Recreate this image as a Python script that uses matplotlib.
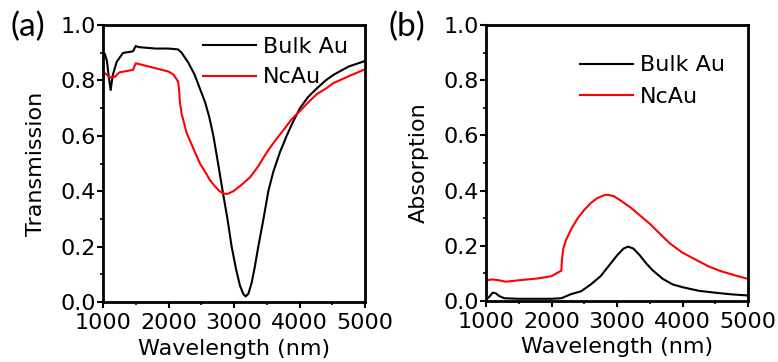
import matplotlib
matplotlib.use("Agg")
import matplotlib.pyplot as plt
import numpy as np

plt.rcParams['font.family'] = ['DejaVu Sans']

# Panel (a): Transmission
wl_bulk_T = [1000, 1030, 1060, 1090, 1117, 1150, 1209, 1305, 1458, 1500, 1550, 1800, 2000, 2145,
             2200, 2300, 2400, 2480, 2560, 2620, 2685, 2750, 2827, 2900, 2964, 3030, 3090, 3140,
             3178, 3220, 3270, 3320, 3371, 3450, 3524, 3600, 3700, 3804, 3900, 4008, 4130, 4260,
             4400, 4517, 4750, 5000]
T_bulk = [0.90, 0.895, 0.87, 0.81, 0.765, 0.82, 0.867, 0.899, 0.905, 0.924, 0.92, 0.915, 0.915, 0.912,
          0.90, 0.865, 0.82, 0.77, 0.72, 0.67, 0.60, 0.51, 0.40, 0.30, 0.20, 0.12, 0.06, 0.03,
          0.02, 0.03, 0.07, 0.13, 0.20, 0.30, 0.40, 0.47, 0.54, 0.60, 0.65, 0.70, 0.74, 0.77,
          0.80, 0.82, 0.85, 0.87]

wl_nc_T = [1000, 1030, 1100, 1175, 1250, 1458, 1500, 1600, 1800, 2000, 2080, 2145, 2160, 2175,
           2200, 2277, 2350, 2480, 2560, 2633, 2700, 2780, 2837, 2900, 2990, 3100, 3244, 3370,
           3500, 3620, 3753, 3880, 4008, 4130, 4262, 4400, 4517, 4750, 5000]
T_nc = [0.816, 0.826, 0.811, 0.812, 0.829, 0.838, 0.862, 0.856, 0.844, 0.832, 0.82, 0.796, 0.77, 0.72,
        0.68, 0.61, 0.57, 0.50, 0.47, 0.44, 0.42, 0.40, 0.392, 0.39, 0.40, 0.42, 0.45, 0.49,
        0.54, 0.58, 0.62, 0.66, 0.69, 0.72, 0.75, 0.77, 0.79, 0.815, 0.84]

# Panel (b): Absorption
wl_bulk_A = [1000, 1050, 1100, 1150, 1200, 1280, 1500, 2000, 2150, 2300, 2450, 2600, 2750, 2900,
             3000, 3100, 3170, 3250, 3350, 3450, 3550, 3700, 3850, 4000, 4250, 4500, 4750, 5000]
A_bulk = [0.005, 0.015, 0.03, 0.028, 0.018, 0.01, 0.008, 0.008, 0.01, 0.025, 0.035, 0.06, 0.09, 0.135,
          0.165, 0.19, 0.197, 0.19, 0.165, 0.135, 0.11, 0.08, 0.06, 0.05, 0.037, 0.03, 0.024, 0.02]

wl_nc_A = [1000, 1100, 1200, 1300, 1500, 1800, 2000, 2150, 2160, 2180, 2220, 2300, 2400, 2500,
           2600, 2700, 2800, 2850, 2950, 3050, 3200, 3350, 3500, 3650, 3800, 4000, 4200, 4400,
           4600, 4800, 5000]
A_nc = [0.075, 0.078, 0.075, 0.07, 0.075, 0.082, 0.09, 0.11, 0.15, 0.19, 0.22, 0.26, 0.30, 0.33,
        0.355, 0.373, 0.383, 0.385, 0.38, 0.365, 0.34, 0.31, 0.28, 0.245, 0.21, 0.175, 0.15, 0.125,
        0.107, 0.093, 0.08]

series_labels = ["Bulk Au", "NcAu"]
colors = ["black", "#ff0000"]

fig = plt.figure(figsize=(7.78, 3.62), dpi=100)
W, H = 778, 362
axA = fig.add_axes([103 / W, 1 - 302 / H, (365 - 103) / W, (302 - 25) / H])
axB = fig.add_axes([486 / W, 1 - 301 / H, (748 - 486) / W, (301 - 25) / H])

axA.plot(wl_bulk_T, T_bulk, color=colors[0], lw=1.5, label=series_labels[0])
axA.plot(wl_nc_T, T_nc, color=colors[1], lw=1.5, label=series_labels[1])
axB.plot(wl_bulk_A, A_bulk, color=colors[0], lw=1.5, label=series_labels[0])
axB.plot(wl_nc_A, A_nc, color=colors[1], lw=1.5, label=series_labels[1])

FS = 16
for ax, ylab in [(axA, "Transmission"), (axB, "Absorption")]:
    ax.set_xlim(1000, 5000)
    ax.set_ylim(0, 1.0)
    ax.set_xticks([1000, 2000, 3000, 4000, 5000])
    ax.set_xticks(np.arange(1000, 5001, 500), minor=True)
    ax.set_yticks([0.0, 0.2, 0.4, 0.6, 0.8, 1.0])
    ax.set_yticks(np.arange(0, 1.01, 0.1), minor=True)
    ax.set_yticklabels(["0.0", "0.2", "0.4", "0.6", "0.8", "1.0"])
    ax.tick_params(which='major', direction='out', length=4, width=1.5, labelsize=FS, pad=1)
    ax.tick_params(axis='x', which='major', pad=4)
    ax.tick_params(which='minor', direction='out', length=2.5, width=1.2)
    for s in ax.spines.values():
        s.set_linewidth(2)
    ax.set_xlabel("Wavelength (nm)", fontsize=FS, va='center')
    ax.set_ylabel(ylab, fontsize=FS, va='center')
    ax.xaxis.set_label_coords(0.5, -0.168)
    ax.yaxis.set_label_coords(-0.255, 0.5)

axA.legend(loc='upper left', bbox_to_anchor=(0.382, 0.957), frameon=False, fontsize=FS,
           handlelength=2.4, handletextpad=0.3, labelspacing=0.47, borderaxespad=0, borderpad=0)
axB.legend(loc='upper left', bbox_to_anchor=(0.359, 0.89), frameon=False, fontsize=FS,
           handlelength=2.4, handletextpad=0.3, labelspacing=0.53, borderaxespad=0, borderpad=0)

fig.text(10 / W, 1 - 27 / H, "(a)", fontsize=24, va='center', ha='left', family=['Lato', 'DejaVu Sans'])
fig.text(389 / W, 1 - 27 / H, "(b)", fontsize=24, va='center', ha='left', family=['Lato', 'DejaVu Sans'])

fig.savefig("out.png", dpi=100)
